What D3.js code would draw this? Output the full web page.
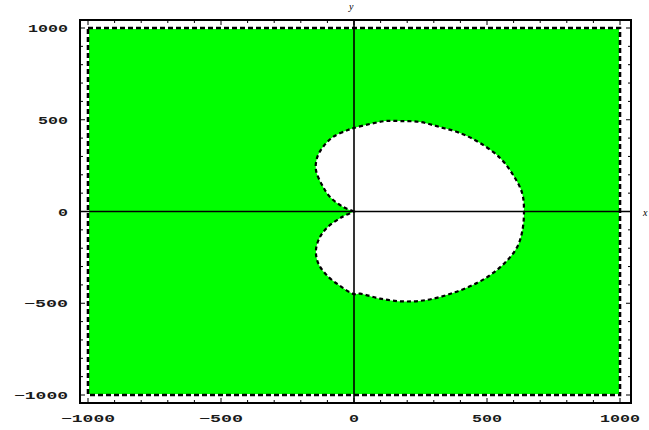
<!DOCTYPE html>
<html>
<head>
<meta charset="utf-8">
<script src="https://cdn.jsdelivr.net/npm/d3@7"></script>
<style>
  body { margin: 0; background: #fff; }
  svg { display: block; }
  .tick-label { font-family: "Liberation Mono", monospace; font-weight: bold; font-size: 10.5px; fill: #1a1a1a; }
</style>
</head>
<body>
<svg id="chart"></svg>
<script>
// plot range and ticks
const xDomain = [-1000, 1000];
const yDomain = [-1000, 1000];
const majorTicks = [-1000, -500, 0, 500, 1000];
const minorTicks = d3.range(-1000, 1001, 100);

// boundary of the white hole (cusp at origin)
const upperEdge = [
  [0, 0], [-41, 25], [-90, 79], [-120, 144], [-143, 226], [-139, 292],
  [-117, 351], [-79, 406], [-23, 444], [0, 455], [60, 477], [117, 493],
  [173, 493], [248, 488], [323, 460], [398, 428], [474, 373], [549, 292],
  [598, 199], [632, 101], [639, 0]
];
const lowerEdge = [
  [632, -112], [613, -195], [575, -268], [523, -335], [462, -390],
  [372, -444], [274, -482], [184, -490], [98, -475], [23, -448],
  [0, -450], [-53, -405], [-102, -348], [-135, -280], [-143, -210],
  [-128, -139], [-98, -84], [-45, -30], [0, 0]
];

const width = 649, height = 430;
const svg = d3.select('#chart').attr('width', width).attr('height', height);

const x = d3.scaleLinear().domain(xDomain).range([88, 620]);
const y = d3.scaleLinear().domain(yDomain).range([395, 28]);

const frame = {left: 80, right: 631, top: 20, bottom: 403};

// green region
svg.append('rect')
  .attr('x', x(-1000) + 1).attr('y', y(1000) + 1)
  .attr('width', x(1000) - x(-1000) - 2)
  .attr('height', y(-1000) - y(1000) - 2)
  .attr('fill', '#00ff00');

svg.append('rect')
  .attr('x', x(-1000)).attr('y', y(1000))
  .attr('width', x(1000) - x(-1000))
  .attr('height', y(-1000) - y(1000))
  .attr('fill', 'none')
  .attr('stroke', '#000')
  .attr('stroke-width', 2.6)
  .attr('stroke-dasharray', '5,3');

// white hole
const line = d3.line().x(d => x(d[0])).y(d => y(d[1])).curve(d3.curveCatmullRom);
const hole = upperEdge.concat(lowerEdge);
svg.append('path')
  .attr('d', line(hole) + 'Z')
  .attr('fill', '#fff')
  .attr('stroke', '#000')
  .attr('stroke-width', 2.2)
  .attr('stroke-dasharray', '4,3');

// axes through origin
svg.append('line')
  .attr('x1', x(0)).attr('x2', x(0))
  .attr('y1', frame.top).attr('y2', frame.bottom)
  .attr('stroke', '#000').attr('stroke-width', 1.6);
svg.append('line')
  .attr('x1', frame.left).attr('x2', frame.right)
  .attr('y1', y(0)).attr('y2', y(0))
  .attr('stroke', '#000').attr('stroke-width', 1.6);

svg.append('text')
  .attr('x', x(0) - 5).attr('y', 10)
  .attr('font-family', 'Liberation Serif').attr('font-style', 'italic')
  .attr('font-size', 10).text('y');
svg.append('text')
  .attr('x', 643).attr('y', y(0) + 4)
  .attr('font-family', 'Liberation Serif').attr('font-style', 'italic')
  .attr('font-size', 10).text('x');

// frame
svg.append('rect')
  .attr('x', frame.left).attr('y', frame.top)
  .attr('width', frame.right - frame.left)
  .attr('height', frame.bottom - frame.top)
  .attr('fill', 'none').attr('stroke', '#000').attr('stroke-width', 2);

// frame ticks pointing inward
const tickLen = v => majorTicks.includes(v) ? 5 : 3;
const tg = svg.append('g').attr('stroke', '#000').attr('stroke-width', 1);
minorTicks.forEach(v => {
  const l = tickLen(v);
  tg.append('line').attr('x1', x(v)).attr('x2', x(v)).attr('y1', frame.bottom).attr('y2', frame.bottom - l);
  tg.append('line').attr('x1', x(v)).attr('x2', x(v)).attr('y1', frame.top).attr('y2', frame.top + l);
  tg.append('line').attr('y1', y(v)).attr('y2', y(v)).attr('x1', frame.left).attr('x2', frame.left + l);
  tg.append('line').attr('y1', y(v)).attr('y2', y(v)).attr('x1', frame.right).attr('x2', frame.right - l);
});

const fmt = v => v < 0 ? '\u2212' + Math.abs(v) : String(v);
const labelWidth = v => fmt(v).length * 10 + (v < 0 ? 4 : 0);

svg.selectAll('.xl')
  .data(majorTicks)
  .join('text')
  .attr('class', 'tick-label')
  .attr('x', d => x(d))
  .attr('y', 422)
  .attr('text-anchor', 'middle')
  .attr('textLength', labelWidth)
  .attr('lengthAdjust', 'spacingAndGlyphs')
  .text(fmt);

svg.selectAll('.yl')
  .data(majorTicks)
  .join('text')
  .attr('class', 'tick-label')
  .attr('x', 68)
  .attr('y', d => y(d) + 4)
  .attr('text-anchor', 'end')
  .attr('textLength', labelWidth)
  .attr('lengthAdjust', 'spacingAndGlyphs')
  .text(fmt);
</script>
</body>
</html>
